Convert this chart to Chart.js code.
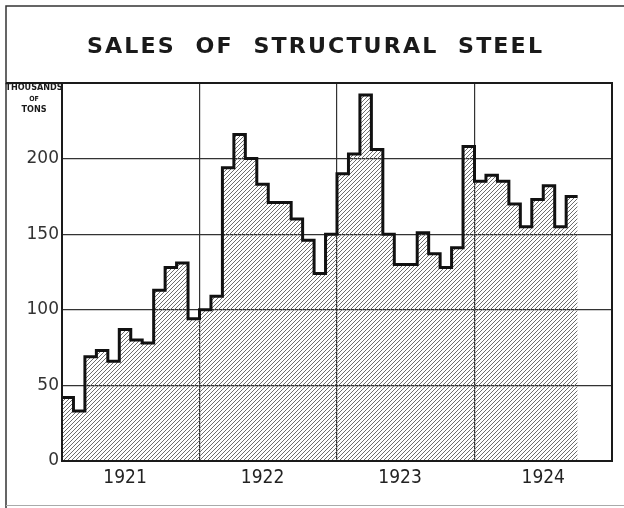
<!DOCTYPE html>
<html lang="en">

<head>
    <meta charset="UTF-8">
    <title>Sales of Structural Steel</title>
    <script src="https://cdn.jsdelivr.net/npm/chart.js@4.4.1/dist/chart.umd.min.js"></script>
    <style>
        * {
            margin: 0;
            padding: 0;
            box-sizing: border-box;
        }

        body {
            background: #fff;
        }

        canvas {
            display: block;
        }
    </style>
</head>

<body>
    <canvas id="steelChart" width="624" height="508"></canvas>

    <script>
        // Data (thousands of tons, monthly)
        const sales1921 = [42, 33, 69, 73, 66, 87, 80, 78, 113, 128, 131, 94];
        const sales1922 = [100, 109, 194, 216, 200, 183, 171, 171, 160, 146, 124, 150];
        const sales1923 = [190, 203, 242, 206, 150, 130, 130, 151, 137, 128, 141, 208];
        const sales1924 = [185, 189, 185, 170, 155, 173, 182, 155, 175];

        const years = ['1921', '1922', '1923', '1924'];
        const yearBounds = [0, 12, 24, 36, 48];
        const yearLabelPos = [5.5, 17.5, 29.5, 42];
        const yTicks = [0, 50, 100, 150, 200];

        const titleText = 'SALES  OF  STRUCTURAL  STEEL';
        const unitLines = ['THOUSANDS', 'OF', 'TONS'];

        // step points: one per month start, plus a closing point at the end of the last month
        const allSales = [...sales1921, ...sales1922, ...sales1923, ...sales1924];
        const points = allSales.map((v, i) => ({ x: i, y: v }));
        points.push({ x: allSales.length, y: allSales[allSales.length - 1] });

        // Hatch pattern for the filled area
        function makeHatch() {
            const size = 4;
            const c = document.createElement('canvas');
            c.width = size;
            c.height = size;
            const g = c.getContext('2d');
            g.strokeStyle = '#6e6e6e';
            g.lineWidth = 1;
            g.beginPath();
            g.moveTo(0, size);
            g.lineTo(size, 0);
            g.moveTo(-1, 1);
            g.lineTo(1, -1);
            g.moveTo(size - 1, size + 1);
            g.lineTo(size + 1, size - 1);
            g.stroke();
            return g.createPattern(c, 'repeat');
        }

        // Frame, title and unit label
        const decorPlugin = {
            id: 'decor',
            afterDraw(chart) {
                const ctx = chart.ctx;
                const area = chart.chartArea;
                ctx.save();

                // outer frame
                ctx.strokeStyle = '#333';
                ctx.lineWidth = 1.5;
                ctx.beginPath();
                ctx.moveTo(624, 6);
                ctx.lineTo(6, 6);
                ctx.lineTo(6, 508);
                ctx.stroke();
                ctx.strokeStyle = '#aaa';
                ctx.lineWidth = 1;
                ctx.beginPath();
                ctx.moveTo(6, 505.5);
                ctx.lineTo(624, 505.5);
                ctx.stroke();

                // plot border (top line runs out to the frame)
                ctx.strokeStyle = '#1a1a1a';
                ctx.lineWidth = 2;
                ctx.beginPath();
                ctx.moveTo(6, area.top);
                ctx.lineTo(area.right, area.top);
                ctx.lineTo(area.right, area.bottom);
                ctx.lineTo(area.left, area.bottom);
                ctx.lineTo(area.left, area.top);
                ctx.stroke();

                // title, stretched wide like the hand lettering
                ctx.fillStyle = '#1a1a1a';
                ctx.font = 'bold 21px "DejaVu Sans", sans-serif';
                ctx.textBaseline = 'middle';
                ctx.textAlign = 'left';
                ctx.letterSpacing = '2px';
                const w = ctx.measureText(titleText).width - 2;
                ctx.save();
                ctx.translate(87, 48);
                ctx.scale(455 / w, 1);
                ctx.fillText(titleText, 0, 0);
                ctx.restore();
                ctx.letterSpacing = '0px';

                // unit label
                ctx.textAlign = 'center';
                ctx.font = 'bold 9px "DejaVu Sans Condensed", "DejaVu Sans", sans-serif';
                ctx.fillText(unitLines[0], 34, 88);
                ctx.font = 'bold 7px "DejaVu Sans Condensed", "DejaVu Sans", sans-serif';
                ctx.fillText(unitLines[1], 34, 99);
                ctx.font = 'bold 9px "DejaVu Sans Condensed", "DejaVu Sans", sans-serif';
                ctx.fillText(unitLines[2], 34, 110);

                ctx.restore();
            }
        };

        const ctx = document.getElementById('steelChart').getContext('2d');
        new Chart(ctx, {
            type: 'line',
            data: {
                datasets: [{
                    data: points,
                    stepped: 'before',
                    borderColor: '#111',
                    borderWidth: 3,
                    pointRadius: 0,
                    fill: 'origin',
                    backgroundColor: makeHatch()
                }]
            },
            options: {
                responsive: false,
                animation: false,
                layout: {
                    padding: { left: 0, right: 12, top: 83, bottom: 0 }
                },
                plugins: {
                    legend: { display: false },
                    title: { display: false },
                    tooltip: { enabled: false }
                },
                scales: {
                    x: {
                        type: 'linear',
                        min: 0,
                        max: 48,
                        afterFit(scale) {
                            scale.height = 47;
                        },
                        afterBuildTicks(scale) {
                            scale.ticks = [...yearBounds, ...yearLabelPos]
                                .sort((a, b) => a - b)
                                .map(v => ({ value: v }));
                        },
                        border: { display: false },
                        grid: {
                            drawTicks: false,
                            color: c => (yearBounds.includes(c.tick.value) ? '#333' : 'rgba(0,0,0,0)'),
                            lineWidth: 1.2
                        },
                        ticks: {
                            autoSkip: false,
                            maxRotation: 0,
                            padding: 6,
                            color: '#222',
                            font: {
                                family: '"Liberation Sans Narrow", "DejaVu Sans Condensed", sans-serif',
                                size: 19
                            },
                            callback(value) {
                                const i = yearLabelPos.indexOf(value);
                                return i >= 0 ? years[i] : '';
                            }
                        }
                    },
                    y: {
                        min: 0,
                        max: 250,
                        afterFit(scale) {
                            scale.width = 62;
                        },
                        afterBuildTicks(scale) {
                            scale.ticks = [...yTicks, 250].map(v => ({ value: v }));
                        },
                        border: { display: false },
                        grid: {
                            drawTicks: false,
                            color: '#333',
                            lineWidth: 1.2
                        },
                        ticks: {
                            padding: 3,
                            color: '#333',
                            font: { family: '"DejaVu Sans", sans-serif', size: 17 },
                            callback(value) {
                                return yTicks.includes(value) ? String(value) : '';
                            }
                        }
                    }
                }
            },
            plugins: [decorPlugin]
        });
    </script>
</body>

</html>
